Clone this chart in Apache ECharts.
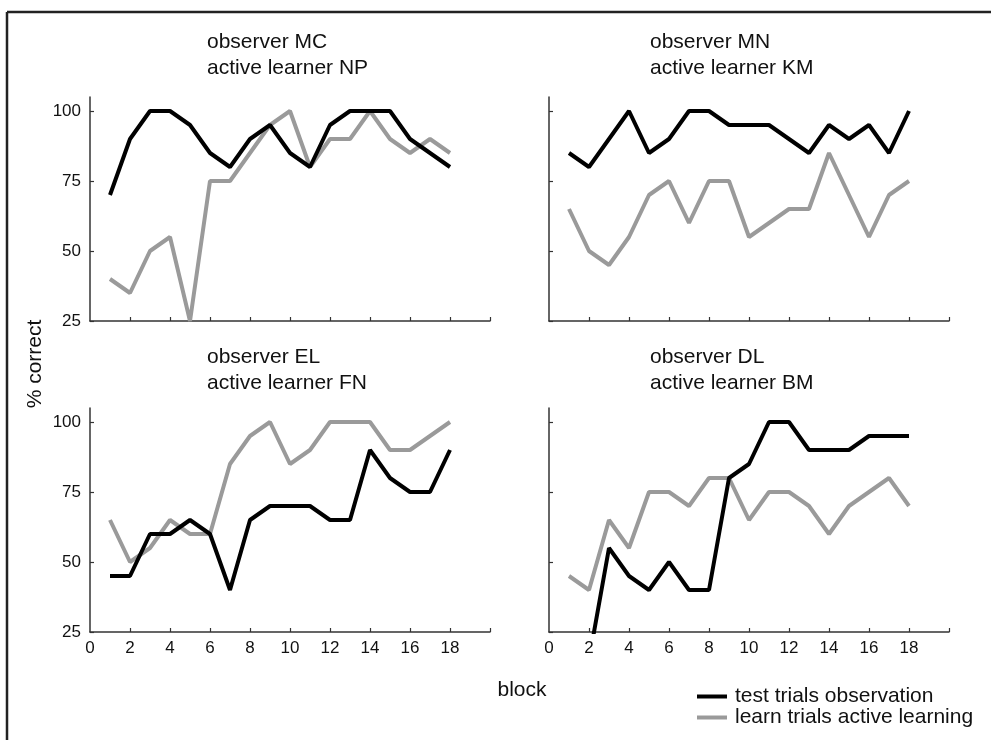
<!DOCTYPE html>
<html>
<head>
<meta charset="utf-8">
<script src="https://cdn.jsdelivr.net/npm/echarts@6/dist/echarts.min.js"></script>
<style>
html,body{margin:0;padding:0;background:#fff;}
#chart{width:991px;height:740px;}
</style>
</head>
<body>
<div id="chart"></div>
<script>
// ---- data ----
const blocks = [1,2,3,4,5,6,7,8,9,10,11,12,13,14,15,16,17,18];
const xTickValues = [2,4,6,8,10,12,14,16,18,20];
const xLabelValues = [0,2,4,6,8,10,12,14,16,18];
const yTickValues = [25,50,75,100];

const panelTitles = [
  'observer MC\nactive learner NP',
  'observer MN\nactive learner KM',
  'observer EL\nactive learner FN',
  'observer DL\nactive learner BM'
];
// test trials observation (black)
const mcObs = [70,90,100,100,95,85,80,90,95,85,80,95,100,100,100,90,85,80];
const mnObs = [85,80,90,100,85,90,100,100,95,95,95,90,85,95,90,95,85,100];
const elObs = [45,45,60,60,65,60,40,65,70,70,70,65,65,90,80,75,75,90];
const dlObs = [15,15,55,45,40,50,40,40,80,85,100,100,90,90,90,95,95,95];
// learn trials active learning (gray)
const npLearn = [40,35,50,55,25,75,75,85,95,100,80,90,90,100,90,85,90,85];
const kmLearn = [65,50,45,55,70,75,60,75,75,55,60,65,65,85,70,55,70,75];
const fnLearn = [65,50,55,65,60,60,85,95,100,85,90,100,100,100,90,90,95,100];
const bmLearn = [45,40,65,55,75,75,70,80,80,65,75,75,70,60,70,75,80,70];

const obsSeries = [mcObs, mnObs, elObs, dlObs];
const learnSeries = [npLearn, kmLearn, fnLearn, bmLearn];
const obsName = 'test trials observation';
const learnName = 'learn trials active learning';

// ---- layout ----
const FONT = '"Liberation Sans", Arial, Helvetica, sans-serif';
const grids = [
  {left: 90, top: 97, width: 400, height: 224},
  {left: 549, top: 97, width: 400, height: 224},
  {left: 90, top: 408, width: 400, height: 224},
  {left: 549, top: 408, width: 400, height: 224}
];
const titlePos = [
  {left: 207, top: 29},
  {left: 650, top: 29},
  {left: 207, top: 344},
  {left: 650, top: 344}
];

const pair = arr => blocks.map((b, i) => [b, arr[i]]);

const option = {
  animation: false,
  backgroundColor: '#fff',
  title: panelTitles.map((t, i) => ({
    text: t,
    left: titlePos[i].left,
    top: titlePos[i].top,
    padding: 0,
    textStyle: {fontFamily: FONT, fontSize: 21, fontWeight: 'normal', color: '#111', lineHeight: 26}
  })),
  legend: {
    data: [obsName, learnName],
    orient: 'vertical',
    left: 697,
    top: 686,
    itemWidth: 30,
    itemHeight: 4,
    itemGap: 0,
    icon: 'rect',
    padding: 0,
    selectedMode: false,
    textStyle: {fontFamily: FONT, fontSize: 21, color: '#111', padding: [0,0,0,3]}
  },
  grid: grids,
  xAxis: grids.map((g, i) => ({
    type: 'value',
    gridIndex: i,
    min: 0, max: 20, interval: 2,
    splitLine: {show: false},
    axisLine: {show: true, onZero: false, lineStyle: {color: '#333', width: 1.5}},
    axisTick: {show: true, inside: true, length: 4, customValues: xTickValues, lineStyle: {color: '#333', width: 1.2}},
    axisLabel: {
      show: i >= 2, customValues: xLabelValues, margin: 8,
      fontFamily: FONT, fontSize: 17, color: '#111'
    }
  })),
  yAxis: grids.map((g, i) => ({
    type: 'value',
    gridIndex: i,
    min: 25, max: 105,
    splitLine: {show: false},
    axisLine: {show: true, onZero: false, lineStyle: {color: '#333', width: 1.5}},
    axisTick: {show: true, inside: true, length: 4, customValues: yTickValues, lineStyle: {color: '#333', width: 1.2}},
    axisLabel: {
      show: i % 2 === 0, customValues: yTickValues, margin: 9,
      fontFamily: FONT, fontSize: 17, color: '#111'
    }
  })),
  series: [],
  graphic: [
    {type: 'line', shape: {x1: 7, y1: 12, x2: 991, y2: 12}, style: {stroke: '#222', lineWidth: 2.5}},
    {type: 'line', shape: {x1: 7, y1: 12, x2: 7, y2: 740}, style: {stroke: '#222', lineWidth: 2.5}},
    {type: 'text', x: 522, y: 690, style: {text: 'block', font: '21px ' + FONT, fill: '#111', textAlign: 'center', textVerticalAlign: 'middle'}},
    {type: 'text', x: 35, y: 364, rotation: Math.PI / 2, style: {text: '% correct', font: '21px ' + FONT, fill: '#111', textAlign: 'center', textVerticalAlign: 'middle'}}
  ]
};

for (let i = 0; i < 4; i++) {
  option.series.push({
    name: learnName, type: 'line', xAxisIndex: i, yAxisIndex: i,
    data: pair(learnSeries[i]), showSymbol: false, clip: true,
    itemStyle: {color: '#9a9a9a'},
    lineStyle: {color: '#9a9a9a', width: 4}
  });
  option.series.push({
    name: obsName, type: 'line', xAxisIndex: i, yAxisIndex: i,
    data: pair(obsSeries[i]), showSymbol: false, clip: true,
    itemStyle: {color: '#000'},
    lineStyle: {color: '#000', width: 4}
  });
}

const chart = echarts.init(document.getElementById('chart'), null, {renderer: 'canvas'});
chart.setOption(option);
</script>
</body>
</html>
